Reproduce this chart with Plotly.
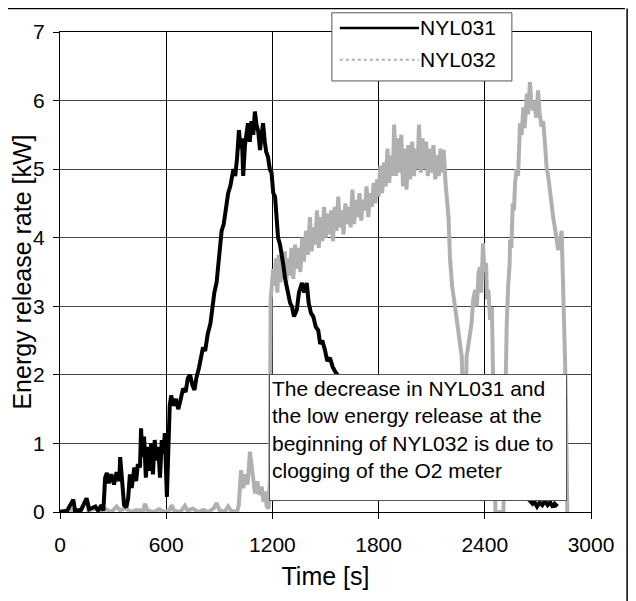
import plotly.graph_objects as go

# NYL031 (time [s], energy release rate [kW])
t_031 = [0, 40, 75, 85, 120, 150, 165, 200, 215, 235, 245, 255, 265, 275, 290, 305, 320, 335, 340, 350,
         362, 375, 385, 395, 405, 420, 430, 440, 452, 458, 465, 475, 485, 495, 505, 515, 525, 535, 545, 555,
         565, 575, 585, 592, 600, 604, 612, 620, 628, 640, 655, 668, 680, 695, 710, 722, 735, 748, 760, 770,
         785, 795, 808, 820, 835, 850, 862, 872, 885, 895, 905, 913, 925, 938, 950, 962, 972, 980, 990, 1000,
         1011, 1020, 1028, 1035, 1045, 1055, 1062, 1072, 1082, 1092, 1101, 1110, 1120, 1130, 1140, 1147, 1157,
         1165, 1175, 1186, 1195, 1205, 1215, 1222, 1232, 1243, 1252, 1262, 1272, 1285, 1300, 1311, 1322, 1338,
         1350, 1367, 1380, 1394, 1405, 1418, 1431, 1445, 1459, 1470, 1482, 1497, 1510, 1525, 1540, 1554, 1580,
         1650, 1750, 1850, 1950, 2050, 2150, 2250, 2350, 2450, 2550, 2620, 2650, 2670, 2680, 2695, 2710, 2725,
         2740, 2755, 2770, 2785, 2795, 2810]
e_031 = [0.0, 0.02, 0.18, 0.02, 0.03, 0.2, 0.04, 0.08, 0.02, 0.1, 0.02, 0.5, 0.57, 0.42, 0.55, 0.4, 0.58, 0.45, 0.8, 0.4,
         0.1, 0.07, 0.2, 0.55, 0.35, 0.65, 0.45, 0.7, 0.65, 1.22, 0.8, 1.1, 0.5, 0.95, 0.6, 1.0, 0.55, 1.05, 0.75, 0.95,
         0.5, 1.05, 0.85, 1.15, 0.4, 0.22, 0.9, 1.55, 1.7, 1.55, 1.65, 1.5, 1.62, 1.8, 1.75, 1.95, 2.0, 1.85, 1.78, 1.95,
         2.1, 2.25, 2.4, 2.35, 2.6, 2.75, 3.0, 3.2, 3.35, 3.6, 3.85, 4.1, 4.2, 4.5, 4.65, 4.75, 4.95, 5.0, 4.9, 5.15,
         5.57, 5.3, 5.45, 4.9, 5.35, 5.6, 5.67, 5.4, 5.7, 5.5, 5.84, 5.65, 5.55, 5.28, 5.6, 5.67, 5.4,
         5.25, 5.18, 4.99, 4.95, 4.65, 4.6, 4.3, 4.0, 3.9, 3.7, 3.6, 3.4, 3.25, 3.05, 2.99, 2.85, 2.95,
         3.2, 3.34, 3.2, 3.34, 3.05, 2.9, 2.85, 2.7, 2.65, 2.45, 2.5, 2.36, 2.2, 2.25, 2.12, 2.05, 1.95,
         1.7, 1.4, 1.1, 0.9, 0.7, 0.55, 0.45, 0.35, 0.3, 0.25, 0.22, 0.18, 0.12, 0.15, 0.08, 0.14, 0.1,
         0.16, 0.1, 0.14, 0.07, 0.12, 0.08]

# NYL032
t_032 = [0, 30, 60, 90, 120, 150, 160, 200, 230, 260, 290, 320, 340, 370, 400, 430, 470, 480, 495, 530,
         560, 590, 620, 630, 645, 680, 706, 720, 750, 780, 810, 840, 870, 885, 900, 930, 950, 965, 1000, 1010,
         1023, 1035, 1050, 1060, 1073, 1085, 1095, 1102, 1115, 1125, 1139, 1150, 1160, 1168, 1178, 1186, 1190,
         1198, 1205, 1212, 1220, 1228, 1236, 1245, 1252, 1260, 1270, 1278, 1288, 1298, 1308, 1318, 1328, 1338,
         1348, 1358, 1368, 1378, 1390, 1400, 1412, 1422, 1432, 1442, 1452, 1462, 1472, 1482, 1492, 1502, 1512,
         1522, 1532, 1542, 1552, 1562, 1572, 1582, 1592, 1602, 1612, 1622, 1632, 1642, 1652, 1662, 1672, 1682,
         1692, 1702, 1712, 1722, 1732, 1742, 1752, 1762, 1772, 1782, 1792, 1800, 1810, 1820, 1830, 1840, 1850,
         1860, 1870, 1880, 1888, 1898, 1908, 1918, 1928, 1938, 1948, 1958, 1968, 1978, 1990, 2000, 2010, 2020,
         2028, 2038, 2048, 2058, 2068, 2078, 2088, 2098, 2110, 2120, 2130, 2140, 2150, 2160, 2168, 2178, 2185,
         2195, 2203, 2215, 2232, 2250, 2270, 2280, 2288, 2297, 2310, 2325, 2335, 2345, 2355, 2365, 2373, 2380,
         2390, 2398, 2407, 2413, 2420, 2430, 2440, 2448, 2455, 2460, 2480, 2505, 2512, 2518, 2524, 2532, 2540,
         2543, 2550, 2558, 2565, 2571, 2580, 2588, 2599, 2608, 2618, 2625, 2638, 2645, 2655, 2663, 2673, 2680,
         2690, 2701, 2710, 2721, 2730, 2740, 2749, 2758, 2768, 2777, 2786, 2795, 2805, 2814, 2822, 2834, 2842,
         2853, 2858, 2862, 2866]
e_032 = [0.02, 0.0, 0.04, 0.0, 0.05, 0.18, 0.02, 0.05, 0.0, 0.04, 0.0, 0.08, 0.02, 0.06, 0.0, 0.03, 0.02, 0.12, 0.02, 0.0,
         0.04, 0.0, 0.03, 0.1, 0.02, 0.0, 0.09, 0.02, 0.05, 0.0, 0.03, 0.0, 0.06, 0.13, 0.03, 0.0, 0.08, 0.02, 0.0, 0.1,
         0.61, 0.35, 0.55, 0.4, 0.88, 0.6, 0.4, 0.27, 0.45, 0.25, 0.37, 0.15, 0.3, 0.08, 0.05, 0.5, 3.1,
         3.3, 3.55, 3.3, 3.7, 3.2, 3.75, 3.35, 3.7, 3.4, 3.8, 3.35, 3.7, 3.45, 3.85, 3.4, 3.9, 3.55,
         3.85, 3.5, 4.0, 3.65, 4.1, 3.75, 4.3, 3.8, 4.15, 3.9, 4.4, 3.85, 4.3, 3.95, 4.45, 4.0, 4.35,
         4.05, 4.4, 3.95, 4.45, 4.1, 4.6, 4.15, 4.4, 4.05, 4.5, 4.2, 4.45, 4.15, 4.7, 4.2, 4.55, 4.3,
         4.65, 4.25, 4.55, 4.4, 4.75, 4.3, 4.65, 4.45, 4.8, 4.5, 4.85, 4.6, 5.05, 4.65, 5.1, 4.75, 5.3,
         4.8, 5.2, 4.9, 5.65, 4.9, 5.45, 4.95, 5.5, 4.75, 5.3, 4.7, 5.35, 4.85, 5.4, 4.9, 5.3, 5.0,
         5.65, 4.95, 5.45, 5.0, 5.4, 4.9, 5.3, 4.95, 5.35, 4.85, 5.2, 4.9, 5.3, 4.95, 5.28, 4.8, 4.6,
         4.3, 3.72, 3.3, 2.99, 2.65, 2.26, 1.2, 0.9, 2.26, 2.5, 2.75, 3.1, 3.24, 3.0, 3.5, 3.57, 3.2,
         3.92, 3.5, 3.63, 3.1, 3.24, 2.8, 2.99, 2.0, 0.8, 0.0, 0.0, 0.0, 1.0, 2.0, 2.75, 3.3, 3.6,
         3.97, 3.85, 4.5, 4.4, 4.8, 5.0, 4.9, 5.67, 5.5, 5.9, 5.6, 6.1, 5.8, 6.27, 5.95, 5.86, 6.0,
         5.75, 6.15, 5.8, 5.62, 5.7, 5.38, 5.03, 4.9, 4.6, 4.5, 4.3, 4.1, 4.0, 3.82, 3.9, 4.1, 3.43,
         2.26, 1.6, 0.8, 0.0]

x_ticks = [0, 600, 1200, 1800, 2400, 3000]
y_ticks = [0, 1, 2, 3, 4, 5, 6, 7]
series_names = ["NYL031", "NYL032"]
note = ("The decrease in NYL031 and<br>the low energy release at the<br>"
        "beginning of NYL032 is due to<br>clogging of the O2 meter")

FONT = "Arial"
FS = 21
GRAY = "#b0b0b0"

fig = go.Figure()
fig.add_trace(go.Scatter(x=t_032, y=e_032, mode="lines", name=series_names[1],
                         line=dict(color=GRAY, width=4), showlegend=False))
fig.add_trace(go.Scatter(x=t_031, y=e_031, mode="lines", name=series_names[0],
                         line=dict(color="black", width=4), showlegend=False))

# legend drawn by hand, like the original (long line samples)
fig.add_shape(type="rect", xref="paper", yref="paper", x0=0.512, x1=0.851, y0=0.898, y1=1.040,
              line=dict(color="#555", width=1), fillcolor="white", layer="above")
fig.add_shape(type="line", xref="paper", yref="paper", x0=0.527, x1=0.676, y0=1.0085, y1=1.0085,
              line=dict(color="black", width=2.5), layer="above")
fig.add_shape(type="line", xref="paper", yref="paper", x0=0.527, x1=0.676, y0=0.942, y1=0.942,
              line=dict(color=GRAY, width=2, dash="dot"), layer="above")
for name, yy in zip(series_names, [1.0085, 0.942]):
    fig.add_annotation(text=name, xref="paper", yref="paper", x=0.674, y=yy,
                       xanchor="left", yanchor="middle", showarrow=False,
                       font=dict(family=FONT, size=FS, color="black"))

# frame: top and right edges only
fig.add_shape(type="line", xref="paper", yref="paper", x0=-0.2, x1=1.064, y0=1.049, y1=1.049,
              line=dict(color="black", width=1.5), layer="below")
fig.add_shape(type="line", xref="paper", yref="paper", x0=1.068, x1=1.068, y0=1.049, y1=-0.2,
              line=dict(color="black", width=1.5), layer="below")

fig.add_annotation(text=note, xref="paper", yref="paper", x=0.3936, y=0.2875,
                   xanchor="left", yanchor="top", align="left", showarrow=False,
                   bgcolor="white", bordercolor="#555", borderwidth=1, borderpad=2,
                   width=292, height=121, valign="top",
                   font=dict(family=FONT, size=FS, color="black"))

# page body adds an 8px margin, so the figure is 8px smaller each way
fig.update_layout(
    width=628, height=593,
    margin=dict(l=52, r=45, t=24, b=89),
    paper_bgcolor="white", plot_bgcolor="white",
    font=dict(family=FONT, size=FS, color="black"),
    showlegend=False,
)
fig.update_xaxes(range=[0, 3000], tickvals=x_ticks, ticks="outside", ticklen=6, tickcolor="black",
                 showline=True, linecolor="black", mirror=True, showgrid=True, gridcolor="black",
                 gridwidth=1, zeroline=False, ticklabelstandoff=8,
                 title=dict(text="Time [s]", standoff=12),
                 tickfont=dict(size=FS), automargin=False)
fig.update_yaxes(range=[0, 7], tickvals=y_ticks, ticks="outside", ticklen=6, tickcolor="black",
                 showline=True, linecolor="black", mirror=True, showgrid=True, gridcolor="#444",
                 gridwidth=1, zeroline=False, ticklabelstandoff=4,
                 title=dict(text="Energy release rate [kW]", standoff=10),
                 tickfont=dict(size=FS), automargin=False)

fig.write_html("out.html")
